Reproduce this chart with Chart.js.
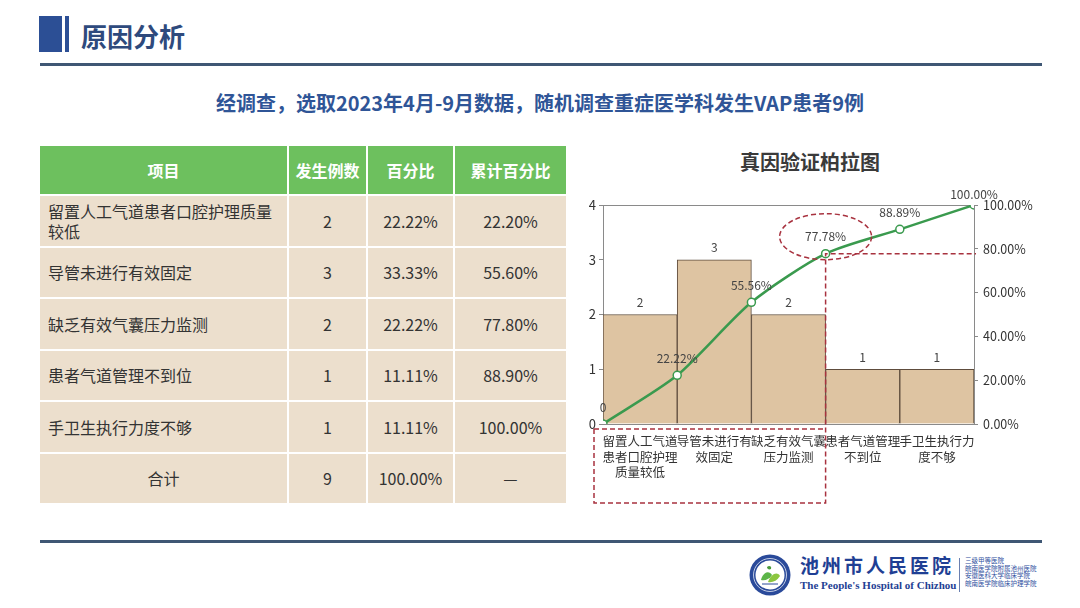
<!DOCTYPE html>
<html lang="zh">
<head>
<meta charset="utf-8">
<title>原因分析</title>
<script src="https://cdn.jsdelivr.net/npm/chart.js@4.4.1/dist/chart.umd.min.js"></script>
<style>
    html, body { margin: 0; padding: 0; background: #fff; }
    body { width: 1080px; height: 608px; position: relative; overflow: hidden; font-family: "Noto Sans CJK SC", "Noto Sans", sans-serif; }
    .abs { position: absolute; }
    #blockA { left: 39px; top: 16px; width: 23px; height: 36px; background: #2c4f95; }
    #blockB { left: 65px; top: 16px; width: 4px; height: 36px; background: #2c4f95; }
    #pageTitle { left: 81px; top: 18px; font-size: 26px; font-weight: bold; color: #2e4a7d; line-height: 36px; letter-spacing: 0px; }
    .rule { left: 40px; width: 1002px; height: 3px; background: #3f5774; }
    #subtitle { left: 0; width: 1080px; top: 89px; text-align: center; font-size: 20px; font-weight: bold; color: #2f5597; line-height: 28px; }
    #tableWrap { left: 38px; top: 146px; }
    table { border-collapse: collapse; width: 528px; table-layout: fixed; }
    th { background: #6dc05e; color: #fff; font-size: 16px; font-weight: bold; height: 48px; border: 2px solid #fff; border-top: none; padding: 0; }
    td { background: #ecdfcd; color: #333; font-size: 16px; height: 49.5px; border: 2px solid #fff; text-align: center; padding: 0; line-height: 20px; }
    td.name { text-align: left; padding: 0 8px; }
    td.total { text-align: center; }
    #chartTitle { left: 680px; width: 260px; top: 148px; text-align: center; font-size: 20px; font-weight: bold; color: #3a3a3a; line-height: 28px; }
    #chartBox { left: 580px; top: 140px; width: 480px; height: 380px; }
    #logoText { left: 800px; top: 553px; font-size: 19px; font-weight: bold; color: #1f3f94; letter-spacing: 3px; line-height: 24px; }
    #logoEn { left: 800px; top: 578px; font-family: "Liberation Serif", serif; font-size: 11px; font-weight: bold; color: #1f3f94; line-height: 14px; }
    #logoSep { left: 959px; top: 558px; width: 1px; height: 34px; background: #6a7fb0; }
    #logoSmall { left: 965px; top: 557px; font-size: 6.5px; color: #3050a0; line-height: 7.5px; }
</style>
</head>
<body>
<div class="abs" id="blockA"></div>
<div class="abs" id="blockB"></div>
<div class="abs" id="pageTitle">原因分析</div>
<div class="abs rule" style="top:63px"></div>
<div class="abs" id="subtitle">经调查，选取2023年4月-9月数据，随机调查重症医学科发生VAP患者9例</div>

<div class="abs" id="tableWrap">
    <table id="causeTable">
        <colgroup>
            <col style="width:249px"><col style="width:79px"><col style="width:87px"><col style="width:113px">
        </colgroup>
        <thead><tr></tr></thead>
        <tbody></tbody>
    </table>
</div>

<div class="abs" id="chartTitle">真因验证柏拉图</div>
<div class="abs" id="chartBox"><canvas id="paretoChart"></canvas></div>

<div class="abs rule" style="top:540px"></div>
<svg class="abs" style="left:748px;top:553px" width="44" height="44" viewBox="0 0 44 44">
    <circle cx="22" cy="22" r="20.5" fill="#2a4a9a"/>
    <circle cx="22" cy="22" r="14.5" fill="#fff"/>
    <circle cx="22" cy="22" r="16.5" fill="none" stroke="#e8ecf6" stroke-width="0.8"/>
    <path d="M13 27 C15 19, 21 17, 24 22 C22 26, 17 28, 13 27 Z" fill="#5cb548"/>
    <path d="M20 29 C23 21, 29 18, 32 23 C29 28, 24 30, 20 29 Z" fill="#8cc63f"/>
    <path d="M19 14 C21 12, 24 13, 23 16 C21 17, 19 16, 19 14 Z" fill="#4a9a3a"/>
    <path d="M14 31 L30 31" stroke="#2a4a9a" stroke-width="1"/>
</svg>
<div class="abs" id="logoText">池州市人民医院</div>
<div class="abs" id="logoEn">The People's Hospital of Chizhou</div>
<div class="abs" id="logoSep"></div>
<div class="abs" id="logoSmall">三级甲等医院<br>皖南医学院附属池州医院<br>安徽医科大学临床学院<br>皖南医学院临床护理学院</div>

<script>
const tableHeaders = ['项目', '发生例数', '百分比', '累计百分比'];
const categories = ['留置人工气道患者口腔护理质量较低', '导管未进行有效固定', '缺乏有效气囊压力监测', '患者气道管理不到位', '手卫生执行力度不够'];
const categoryLines = [
    ['留置人工气道', '患者口腔护理', '质量较低'],
    ['导管未进行有', '效固定'],
    ['缺乏有效气囊', '压力监测'],
    ['患者气道管理', '不到位'],
    ['手卫生执行力', '度不够']
];
const counts = [2, 3, 2, 1, 1];
const percentLabels = ['22.22%', '33.33%', '22.22%', '11.11%', '11.11%'];
const tableCumulative = ['22.20%', '55.60%', '77.80%', '88.90%', '100.00%'];
const totalRow = ['合计', '9', '100.00%', '—'];
const cumulativeLine = [0, 22.22, 55.56, 77.78, 88.89, 100];

document.addEventListener('DOMContentLoaded', () => {
    function populateTable() {
        const headRow = document.querySelector('#causeTable thead tr');
        tableHeaders.forEach(h => {
            const th = document.createElement('th');
            th.textContent = h;
            headRow.appendChild(th);
        });
        const body = document.querySelector('#causeTable tbody');
        categories.forEach((name, i) => {
            const row = body.insertRow();
            row.innerHTML = `
                <td class="name">${name}</td>
                <td>${counts[i]}</td>
                <td>${percentLabels[i]}</td>
                <td>${tableCumulative[i]}</td>
            `;
        });
        const last = body.insertRow();
        last.innerHTML = totalRow.map(t => `<td class="total">${t}</td>`).join('');
    }

    const axisGrey = '#8a8a8a';
    const fontFamily = '"Noto Sans CJK SC", "Noto Sans", sans-serif';

    // value labels + dashed red marks
    const overlay = {
        id: 'overlay',
        afterDatasetsDraw(chart) {
            const ctx = chart.ctx;
            const area = chart.chartArea;
            ctx.save();
            ctx.font = '12px ' + fontFamily;
            ctx.fillStyle = '#444';
            ctx.textAlign = 'center';
            ctx.textBaseline = 'middle';

            chart.getDatasetMeta(1).data.forEach((bar, i) => {
                ctx.fillText(String(counts[i]), bar.x, bar.y - 12);
            });
            chart.getDatasetMeta(0).data.forEach((pt, i) => {
                const v = cumulativeLine[i];
                const lift = i === cumulativeLine.length - 1 ? 11 : 17;
                ctx.fillText(v === 0 ? '0' : v.toFixed(2) + '%', pt.x, pt.y - lift);
            });

            const x2 = chart.scales.x2;
            const y2 = chart.scales.y2;
            const px = x2.getPixelForValue(3);
            const py = y2.getPixelForValue(cumulativeLine[3]);
            const boxBottom = chart.height - 17;

            ctx.strokeStyle = '#a8323f';
            ctx.lineWidth = 1.5;
            ctx.setLineDash([5, 3]);

            ctx.beginPath();
            ctx.ellipse(px, py - 17, 46, 23, 0, 0, Math.PI * 2);
            ctx.stroke();

            ctx.beginPath();
            ctx.moveTo(area.left - 9, area.bottom + 5);
            ctx.lineTo(px, area.bottom + 5);
            ctx.moveTo(area.left - 9, area.bottom + 5);
            ctx.lineTo(area.left - 9, boxBottom);
            ctx.lineTo(px, boxBottom);
            ctx.lineTo(px, py);
            ctx.lineTo(area.right + 2, py);
            ctx.stroke();
            ctx.restore();
        }
    };

    new Chart(document.getElementById('paretoChart'), {
        data: {
            labels: categoryLines,
            datasets: [{
                type: 'line',
                label: '累计百分比',
                data: cumulativeLine.map((v, i) => ({ x: i, y: v })),
                xAxisID: 'x2',
                yAxisID: 'y2',
                borderColor: '#3a9a4e',
                borderWidth: 2.5,
                tension: 0.25,
                pointRadius: 4,
                pointBorderWidth: 1.5,
                pointBackgroundColor: '#fff',
                pointBorderColor: '#3a9a4e',
                order: 0
            }, {
                type: 'bar',
                label: '发生例数',
                data: counts,
                xAxisID: 'x',
                yAxisID: 'y',
                backgroundColor: '#dec4a2',
                borderColor: '#5e4c3c',
                borderWidth: 1,
                grouped: false,
                barPercentage: 1,
                categoryPercentage: 1,
                order: 1
            }]
        },
        options: {
            responsive: true,
            maintainAspectRatio: false,
            animation: false,
            layout: { padding: { top: 65, bottom: 36, left: 0, right: 0 } },
            scales: {
                x: {
                    type: 'category',
                    position: 'bottom',
                    offset: true,
                    grid: { display: false, offset: true },
                    border: { display: true, color: axisGrey },
                    ticks: {
                        color: '#333',
                        font: { size: 12.5, family: fontFamily, lineHeight: 1.22 },
                        padding: 2,
                        maxRotation: 0,
                        minRotation: 0,
                        autoSkip: false
                    },
                    afterFit(scale) { scale.height = 60; }
                },
                x2: {
                    type: 'linear',
                    position: 'top',
                    min: 0,
                    max: 5,
                    grid: { display: false },
                    border: { display: true, color: axisGrey },
                    ticks: { display: false },
                    afterFit(scale) { scale.height = 0; }
                },
                y: {
                    position: 'left',
                    min: 0,
                    max: 4,
                    ticks: { stepSize: 1, color: '#333', font: { size: 13, family: fontFamily }, padding: 3 },
                    grid: { display: true, drawOnChartArea: false, drawTicks: true, tickLength: 4, color: axisGrey },
                    border: { display: true, color: axisGrey },
                    afterFit(scale) { scale.width = 23; }
                },
                y2: {
                    position: 'right',
                    min: 0,
                    max: 100,
                    ticks: {
                        stepSize: 20,
                        color: '#333',
                        font: { size: 12.5, family: fontFamily },
                        padding: 5,
                        callback: v => v.toFixed(2) + '%'
                    },
                    grid: { display: true, drawOnChartArea: false, drawTicks: true, tickLength: 4, color: axisGrey },
                    border: { display: true, color: axisGrey },
                    afterFit(scale) { scale.width = 86; }
                }
            },
            plugins: {
                legend: { display: false },
                tooltip: { enabled: false }
            }
        },
        plugins: [overlay]
    });

    populateTable();
});
</script>
</body>
</html>
